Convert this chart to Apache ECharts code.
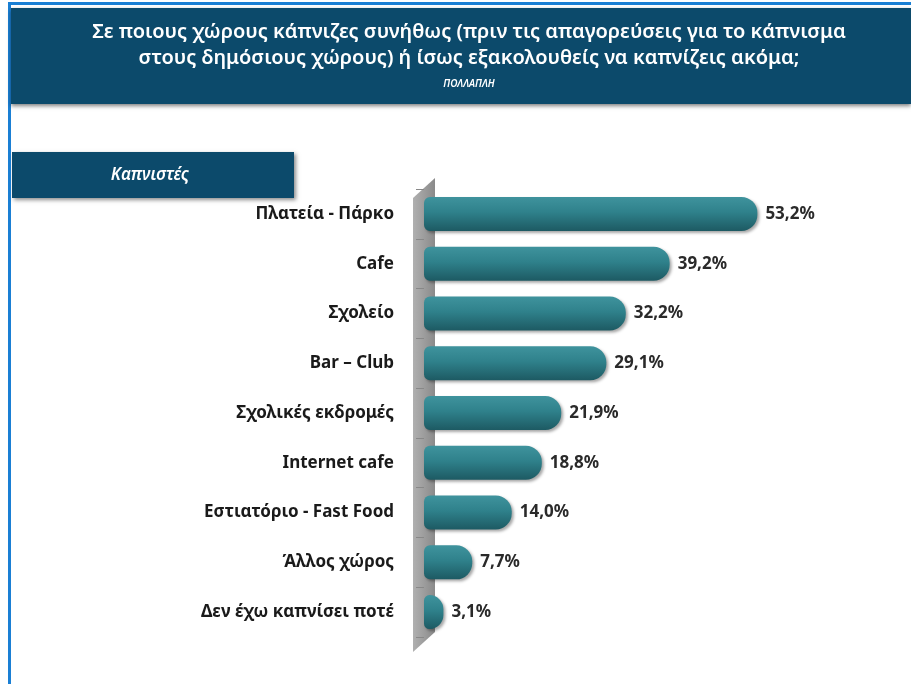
<!DOCTYPE html>
<html>
<head>
<meta charset="utf-8">
<script src="https://cdn.jsdelivr.net/npm/echarts@6/dist/echarts.min.js"></script>
<style>
  html, body { margin: 0; padding: 0; background: #fff; }
  #main { width: 911px; height: 684px; }
</style>
</head>
<body>
<div id="main"></div>
<script>
// places, top to bottom
var categories = ['Πλατεία - Πάρκο', 'Cafe', 'Σχολείο', 'Bar – Club', 'Σχολικές εκδρομές',
  'Internet cafe', 'Εστιατόριο - Fast Food', 'Άλλος χώρος', 'Δεν έχω καπνίσει ποτέ'];
var values = [53.2, 39.2, 32.2, 29.1, 21.9, 18.8, 14.0, 7.7, 3.1];

var chart = echarts.init(document.getElementById('main'));

var barColor = new echarts.graphic.LinearGradient(0, 0, 0, 1, [
  { offset: 0, color: '#3f939d' },
  { offset: 0.45, color: '#2f818b' },
  { offset: 1, color: '#1d5a63' }
]);

var option = {
  backgroundColor: '#ffffff',
  animation: false,
  graphic: [
    // left blue border
    { type: 'rect', shape: { x: 8, y: 2, width: 3, height: 684 }, style: { fill: '#1a7fd4' }, z: 1 },
    { type: 'rect', shape: { x: 8, y: 2, width: 903, height: 3 }, style: { fill: '#1a7fd4' }, z: 1 },
    // header band
    { type: 'rect', shape: { x: 11, y: 8, width: 900, height: 96 },
      style: { fill: '#0c4a6b', shadowBlur: 4, shadowColor: 'rgba(0,0,0,0.5)', shadowOffsetY: 2 }, z: 2 },
    { type: 'text', x: 469, y: 32, z: 3,
      style: { text: 'Σε ποιους χώρους κάπνιζες συνήθως (πριν τις απαγορεύσεις για το κάπνισμα',
        fill: '#ffffff', font: '600 20px "Noto Sans"', align: 'center', verticalAlign: 'middle' } },
    { type: 'text', x: 469, y: 58, z: 3,
      style: { text: 'στους δημόσιους χώρους) ή ίσως εξακολουθείς να καπνίζεις ακόμα;',
        fill: '#ffffff', font: '600 20px "Noto Sans"', align: 'center', verticalAlign: 'middle' } },
    { type: 'text', x: 469, y: 84, z: 3,
      style: { text: 'ΠΟΛΛΑΠΛΗ', fill: '#ffffff', font: 'italic 600 10px "Noto Sans"',
        align: 'center', verticalAlign: 'middle' } },
    // group label box
    { type: 'rect', shape: { x: 12, y: 152, width: 282, height: 46 },
      style: { fill: '#0c4a6b', shadowBlur: 4, shadowColor: 'rgba(0,0,0,0.45)', shadowOffsetX: 2, shadowOffsetY: 2 }, z: 2 },
    { type: 'text', x: 150, y: 175, z: 3,
      style: { text: 'Καπνιστές', fill: '#ffffff', font: 'italic 600 17px "Noto Sans"',
        align: 'center', verticalAlign: 'middle' } },
    // 3d wall behind bars
    { type: 'polygon', z: 0,
      shape: { points: [[413, 198], [435, 178], [435, 632], [413, 652]] },
      style: { fill: new echarts.graphic.LinearGradient(0, 0, 1, 0, [
        { offset: 0, color: '#b0b0b0' }, { offset: 1, color: '#8a8a8a' }]) } }
  ],
  grid: { left: 424, right: 111, top: 189, bottom: 47 },
  xAxis: {
    type: 'value', min: 0, max: 60, show: false
  },
  yAxis: {
    type: 'category', inverse: true, data: categories,
    axisLine: { show: false },
    axisTick: { show: true, length: 8, lineStyle: { color: '#888' } },
    offset: 10,
    axisLabel: { color: '#1a1a1a', fontSize: 17, fontWeight: 'bold', fontFamily: 'Noto Sans', margin: 20 }
  },
  series: [{
    type: 'bar', data: values, barWidth: 34,
    itemStyle: {
      color: barColor, borderRadius: [6, 16, 16, 6],
      shadowBlur: 3, shadowColor: 'rgba(0,0,0,0.35)', shadowOffsetX: 2, shadowOffsetY: 2
    },
    label: {
      show: true, position: 'right', distance: 8,
      formatter: function (p) { return p.value.toFixed(1).replace('.', ',') + '%'; },
      color: '#2a2a2a', fontSize: 17, fontWeight: 'bold', fontFamily: 'Noto Sans'
    }
  }]
};

chart.setOption(option);
</script>
</body>
</html>
